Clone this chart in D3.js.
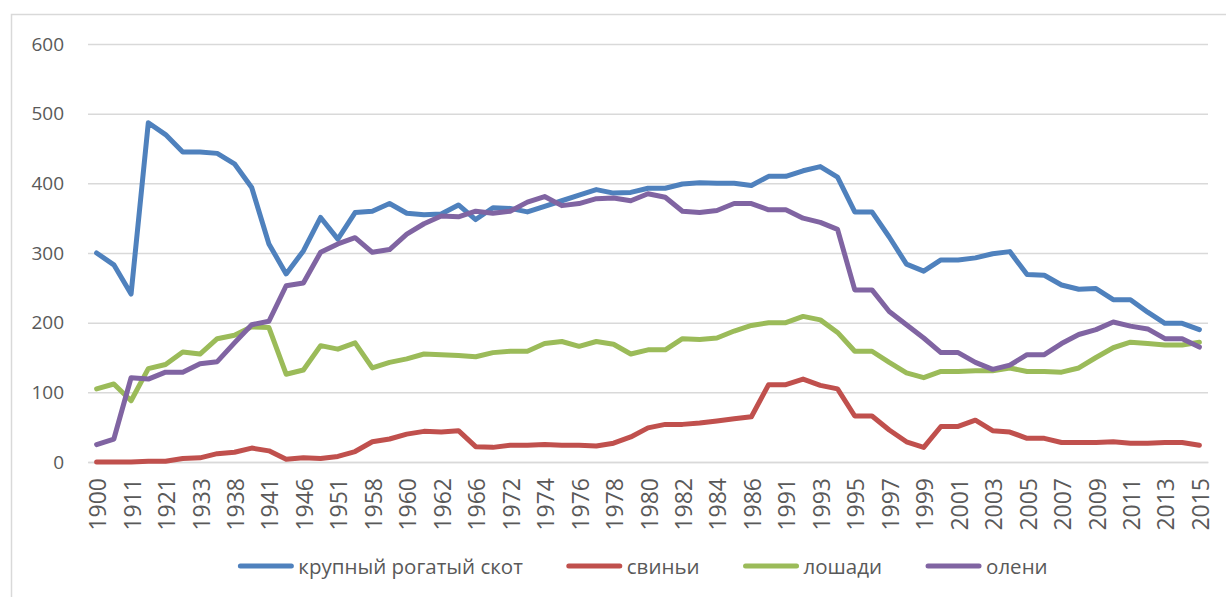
<!DOCTYPE html>
<html>
<head>
<meta charset="utf-8">
<script src="https://cdn.jsdelivr.net/npm/d3@7"></script>
<style>
  html, body { margin: 0; padding: 0; background: #fff; }
  svg { display: block; }
</style>
</head>
<body>
<div id="chart"></div>
<script>
// Categories (only every second one is labelled on the axis)
const years = [
  "1900","1905","1911","1916","1921","1928","1933","1935","1938","1940",
  "1941","1944","1946","1949","1951","1955","1958","1959","1960","1961",
  "1962","1964","1966","1970","1972","1973","1974","1975","1976","1977",
  "1978","1979","1980","1981","1982","1983","1984","1985","1986","1990",
  "1991","1992","1993","1994","1995","1996","1997","1998","1999","2000",
  "2001","2002","2003","2004","2005","2006","2007","2008","2009","2010",
  "2011","2012","2013","2014","2015"
];

const cattle = [
  300, 283, 241, 487, 470, 445, 445, 443, 428, 394,
  313, 270, 303, 351, 320, 358, 360, 371, 357, 355,
  356, 369, 348, 365, 364, 359, 367, 375, 383, 391,
  386, 387, 393, 393, 399, 401, 400, 400, 397, 410,
  410, 418, 424, 409, 359, 359, 323, 284, 274, 290,
  290, 293, 299, 302, 269, 268, 254, 248, 249, 233,
  233, 215, 199, 199, 190
];

const pigs = [
  0, 0, 0, 1, 1, 5, 6, 12, 14, 20,
  16, 4, 6, 5, 8, 15, 29, 33, 40, 44,
  43, 45, 22, 21, 24, 24, 25, 24, 24, 23,
  27, 36, 49, 54, 54, 56, 59, 62, 65, 111,
  111, 119, 110, 105, 66, 66, 46, 29, 21, 51,
  51, 60, 45, 43, 34, 34, 28, 28, 28, 29,
  27, 27, 28, 28, 24
];

const horses = [
  105, 112, 88, 134, 140, 158, 155, 177, 182, 194,
  193, 126, 132, 167, 162, 171, 135, 143, 148, 155,
  154, 153, 151, 157, 159, 159, 170, 173, 166, 173,
  169, 155, 161, 161, 177, 176, 178, 188, 196, 200,
  200, 209, 204, 186, 159, 159, 143, 128, 121, 130,
  130, 131, 131, 135, 130, 130, 129, 135, 150, 164,
  172, 170, 168, 168, 172
];

const deer = [
  25, 33, 121, 119, 129, 129, 141, 144, 171, 197,
  202, 253, 257, 301, 313, 322, 301, 305, 327, 342,
  353, 352, 360, 357, 360, 373, 381, 368, 371, 378,
  379, 375, 385, 380, 360, 358, 361, 371, 371, 362,
  362, 350, 344, 334, 247, 247, 216, 197, 178, 157,
  157, 143, 133, 139, 154, 154, 170, 183, 190, 201,
  195, 191, 177, 177, 165
];

const seriesNames = ["крупный рогатый скот", "свиньи", "лошади", "олени"];
const seriesColors = ["#4F81BD", "#C0504D", "#9BBB59", "#8064A2"];
const yTicks = [0, 100, 200, 300, 400, 500, 600];

const series = [cattle, pigs, horses, deer].map((values, i) => ({
  name: seriesNames[i],
  color: seriesColors[i],
  values
}));

// Dimensions
const width = 1226;
const height = 597;
const plotLeft = 88;
const plotRight = 1208;
const plotTop = 44;
const plotBottom = 462;
const font = "'Open Sans', 'DejaVu Sans', sans-serif";
const narrowFont = "'Liberation Sans Narrow', 'Open Sans', sans-serif";

// Scales
const xScale = d3.scalePoint()
  .domain(years)
  .range([plotLeft, plotRight])
  .padding(0.5);

const yScale = d3.scaleLinear()
  .domain([0, 600])
  .range([plotBottom, plotTop]);

const svg = d3.select("#chart")
  .append("svg")
  .attr("width", width)
  .attr("height", height)
  .attr("viewBox", [0, 0, width, height]);

// Chart border
svg.append("rect")
  .attr("x", 11.5)
  .attr("y", 14.5)
  .attr("width", width + 20)
  .attr("height", height + 20)
  .attr("fill", "none")
  .attr("stroke", "#d9d9d9")
  .attr("stroke-width", 1.5);

// Gridlines + y labels
const yAxis = d3.axisLeft(yScale)
  .tickValues(yTicks)
  .tickSize(-(plotRight - plotLeft))
  .tickPadding(24);

svg.append("g")
  .attr("class", "y-axis")
  .attr("transform", `translate(${plotLeft},0)`)
  .call(yAxis)
  .call((g) => g.select(".domain").remove())
  .call((g) => g.selectAll("line")
    .attr("stroke", "#d9d9d9")
    .attr("stroke-width", 1.5))
  .call((g) => g.selectAll("text")
    .attr("fill", "#595959")
    .attr("font-size", 19)
    .attr("font-family", font));

// X axis (every other category labelled, rotated)
const xAxis = d3.axisBottom(xScale)
  .tickValues(years.filter((d, i) => i % 2 === 0))
  .tickSize(0);

svg.append("g")
  .attr("class", "x-axis")
  .attr("transform", `translate(0,${plotBottom})`)
  .call(xAxis)
  .call((g) => g.select(".domain")
    .attr("stroke", "#d9d9d9")
    .attr("stroke-width", 1.5))
  .selectAll("text")
  .attr("fill", "#595959")
  .attr("font-size", 23)
  .attr("font-family", narrowFont)
  .attr("transform", "rotate(-90)")
  .attr("text-anchor", "end")
  .attr("dominant-baseline", "central")
  .attr("x", -16)
  .attr("y", 0)
  .attr("dy", null);

// Lines
const line = d3.line()
  .x((d, i) => xScale(years[i]))
  .y((d) => yScale(d));

svg.append("g")
  .attr("class", "lines")
  .selectAll("path")
  .data(series)
  .join("path")
  .attr("d", (d) => line(d.values))
  .attr("fill", "none")
  .attr("stroke", (d) => d.color)
  .attr("stroke-width", 5)
  .attr("stroke-linejoin", "round")
  .attr("stroke-linecap", "round");

// Legend
const legendY = 566;
const legend = svg.append("g").attr("class", "legend");
const items = legend.selectAll("g")
  .data(series)
  .join("g");

items.append("line")
  .attr("x1", 0)
  .attr("x2", 51)
  .attr("y1", legendY)
  .attr("y2", legendY)
  .attr("stroke", (d) => d.color)
  .attr("stroke-width", 5)
  .attr("stroke-linecap", "round");

items.append("text")
  .attr("x", 58)
  .attr("y", legendY)
  .attr("dominant-baseline", "central")
  .attr("fill", "#595959")
  .attr("font-size", 20.5)
  .attr("font-family", narrowFont)
  .text((d) => d.name);

// lay out legend items centred under the chart
let offset = 0;
const offsets = [];
items.each(function () {
  const w = 58 + d3.select(this).select("text").node().getComputedTextLength();
  offsets.push(offset);
  offset += w + 46;
});
const total = offset - 46;
const startX = 644 - total / 2;
items.attr("transform", (d, i) => `translate(${startX + offsets[i]},0)`);
</script>
</body>
</html>
